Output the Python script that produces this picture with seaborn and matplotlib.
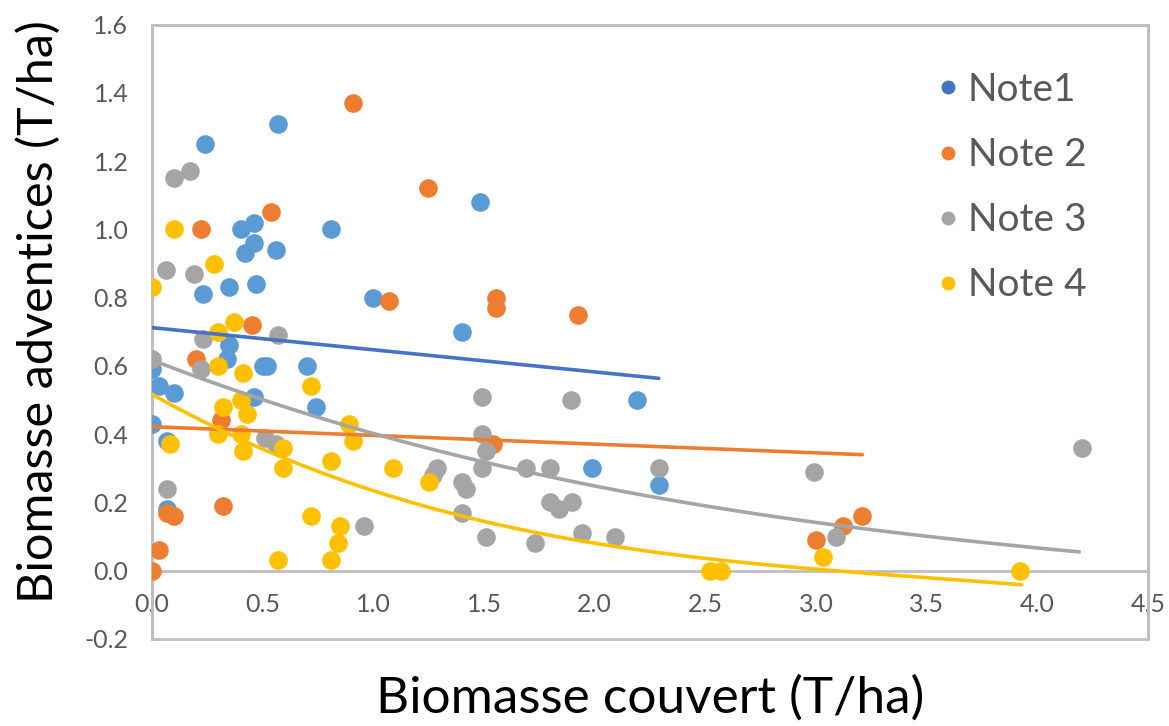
import matplotlib
matplotlib.use('Agg')
import matplotlib.pyplot as plt
from matplotlib.lines import Line2D
from matplotlib.patches import Rectangle
from matplotlib.ticker import FormatStrFormatter
import seaborn as sns
import numpy as np
import pandas as pd

# data (T/ha)
note1_x = [0.00, 0.03, 0.10, 0.00, 0.07, 0.07, 0.35, 0.34, 0.50, 0.52, 0.70, 0.46, 0.74, 0.57, 0.24,
           0.40, 0.46, 0.46, 0.42, 0.56, 0.81, 0.23, 0.35, 0.47, 1.00, 1.40, 1.48, 2.19, 1.99, 2.29]
note1_y = [0.59, 0.54, 0.52, 0.43, 0.38, 0.18, 0.66, 0.62, 0.60, 0.60, 0.60, 0.51, 0.48, 1.31, 1.25,
           1.00, 1.02, 0.96, 0.93, 0.94, 1.00, 0.81, 0.83, 0.84, 0.80, 0.70, 1.08, 0.50, 0.30, 0.25]

note2_x = [0.91, 1.245, 0.54, 0.22, 1.07, 0.45, 1.555, 1.555, 1.925, 0.20, 0.31, 0.32, 0.07, 0.10,
           0.03, 0.00, 1.54, 3.00, 3.12, 3.21]
note2_y = [1.37, 1.12, 1.05, 1.00, 0.79, 0.72, 0.80, 0.77, 0.75, 0.62, 0.44, 0.19, 0.17, 0.16,
           0.06, 0.00, 0.37, 0.09, 0.13, 0.16]

note3_x = [0.10, 0.17, 0.065, 0.19, 0.57, 0.23, 0.00, 0.22, 0.51, 0.56, 0.07, 0.96, 1.29, 1.27, 1.40,
           1.42, 1.40, 1.49, 1.49, 1.51, 1.49, 1.51, 1.69, 1.80, 1.895, 1.80, 1.84, 1.90, 1.73, 1.945,
           2.09, 2.29, 2.99, 3.09, 4.20]
note3_y = [1.15, 1.17, 0.88, 0.87, 0.69, 0.68, 0.62, 0.59, 0.39, 0.37, 0.24, 0.13, 0.30, 0.28, 0.26,
           0.24, 0.17, 0.51, 0.40, 0.35, 0.30, 0.10, 0.30, 0.30, 0.50, 0.20, 0.18, 0.20, 0.08, 0.11,
           0.10, 0.30, 0.29, 0.10, 0.36]

note4_x = [0.10, 0.28, 0.00, 0.37, 0.30, 0.30, 0.41, 0.72, 0.32, 0.40, 0.43, 0.30, 0.40, 0.08, 0.41,
           0.59, 0.59, 0.89, 0.91, 0.81, 1.09, 1.25, 0.72, 0.85, 0.84, 0.57, 0.81, 2.52, 2.57, 3.03, 3.92]
note4_y = [1.00, 0.90, 0.83, 0.73, 0.70, 0.60, 0.58, 0.54, 0.48, 0.50, 0.46, 0.40, 0.40, 0.37, 0.35,
           0.36, 0.30, 0.43, 0.38, 0.32, 0.30, 0.26, 0.16, 0.13, 0.08, 0.03, 0.03, 0.00, 0.00, 0.04, 0.00]

# trendlines as they appear in the chart
trend1_x = [0.00, 0.53, 1.12, 1.45, 2.29]
trend1_y = [0.712, 0.680, 0.640, 0.613, 0.566]
trend2_x = [0.00, 1.12, 1.48, 2.93, 3.21]
trend2_y = [0.422, 0.393, 0.384, 0.347, 0.340]
trend3_x = [0.00, 0.40, 0.75, 1.12, 1.48, 1.72, 2.30, 2.70, 2.93, 3.46, 4.19]
trend3_y = [0.616, 0.525, 0.452, 0.378, 0.317, 0.287, 0.214, 0.173, 0.147, 0.100, 0.056]
trend4_x = [0.00, 0.276, 0.55, 0.955, 1.12, 1.48, 1.57, 2.03, 2.48, 2.93, 3.31, 3.93]
trend4_y = [0.516, 0.428, 0.340, 0.232, 0.217, 0.150, 0.135, 0.082, 0.032, 0.009, -0.012, -0.041]

labels = ['Note1', 'Note 2', 'Note 3', 'Note 4']
point_colors = ['#5B9BD5', '#ED7D31', '#A5A5A5', '#FFC000']
line_colors = ['#4472C4', '#ED7D31', '#A5A5A5', '#FFC000']
trend_order = [1, 1, 3, 3]

series = [(note1_x, note1_y), (note2_x, note2_y), (note3_x, note3_y), (note4_x, note4_y)]
trends = [(trend1_x, trend1_y), (trend2_x, trend2_y), (trend3_x, trend3_y), (trend4_x, trend4_y)]

sns.set_style('white')
plt.rcParams['font.family'] = ['Lato', 'DejaVu Sans']
plt.rcParams['axes.unicode_minus'] = False

fig = plt.figure(figsize=(11.69, 7.26), dpi=100)
ax = fig.add_axes([0.130, 0.120, 0.852, 0.846])

for (xs, ys), c in zip(series, point_colors):
    df = pd.DataFrame({'x': xs, 'y': ys})
    sns.scatterplot(data=df, x='x', y='y', ax=ax, color=c, s=180, linewidth=0, legend=False, zorder=3)

# Excel style trendlines
for (xs, ys), c, o in zip(trends, line_colors, trend_order):
    df = pd.DataFrame({'x': xs, 'y': ys})
    sns.regplot(data=df, x='x', y='y', ax=ax, order=o, ci=None, scatter=False, truncate=True,
                line_kws={'color': c, 'lw': 2.6, 'zorder': 4})

ax.set_xlim(0, 4.5)
ax.set_ylim(-0.2, 1.6)
ax.set_xticks(np.arange(0, 4.51, 0.5))
ax.set_yticks(np.arange(-0.2, 1.61, 0.2))
ax.xaxis.set_major_formatter(FormatStrFormatter('%.1f'))
ax.yaxis.set_major_formatter(FormatStrFormatter('%.1f'))
ax.tick_params(axis='both', length=0, labelsize=18, labelcolor='#595959')
ax.tick_params(axis='x', pad=16)
ax.tick_params(axis='y', pad=17)

grey = '#BFBFBF'
for side in ['left', 'right', 'top']:
    ax.spines[side].set_color(grey)
    ax.spines[side].set_linewidth(2)
ax.spines['bottom'].set_position(('data', 0))
ax.spines['bottom'].set_color(grey)
ax.spines['bottom'].set_linewidth(2)
ax.add_patch(Rectangle((0, 0), 1, 1, transform=ax.transAxes, fill=False,
                       edgecolor=grey, lw=2, clip_on=False, zorder=1))

ax.set_xlabel('Biomasse couvert (T/ha)', fontsize=37, color='black')
ax.set_ylabel('Biomasse adventices (T/ha)', fontsize=35, color='black')
ax.xaxis.set_label_coords(0.5, -0.058)
ax.yaxis.set_label_coords(-0.091, 0.533)

handles = [Line2D([], [], marker='o', ls='', color=c, markersize=9) for c in line_colors]
leg = ax.legend(handles, labels, loc='upper left', bbox_to_anchor=(0.745, 0.98), frameon=False,
                fontsize=28, labelspacing=0.75, handletextpad=0.0, handlelength=1.0)
for t in leg.get_texts():
    t.set_color('#595959')

fig.savefig('out.png', dpi=100)
